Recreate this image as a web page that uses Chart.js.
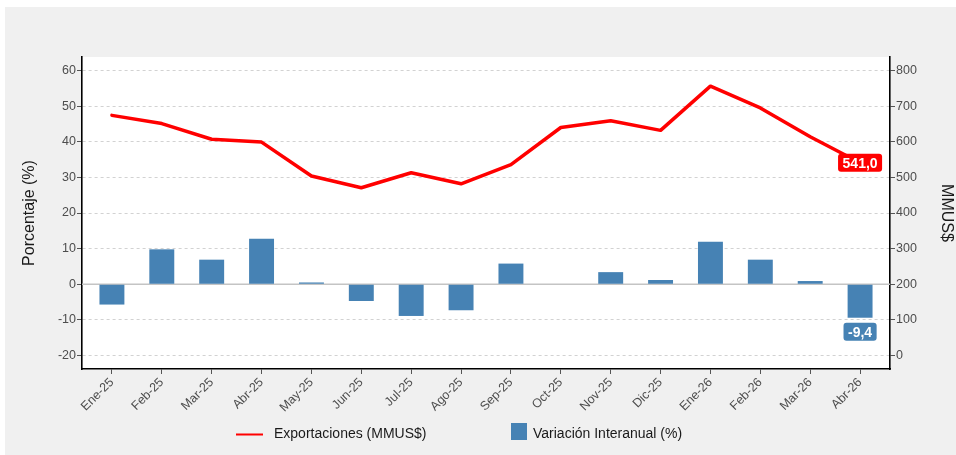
<!DOCTYPE html>
<html>
<head>
<meta charset="utf-8">
<script src="https://cdn.jsdelivr.net/npm/chart.js@4"></script>
<style>
html,body{margin:0;padding:0;background:#fff;}
canvas{display:block;}
</style>
</head>
<body>
<canvas id="c" width="956" height="455"></canvas>
<script>
// ---- data ----
const categories = ['Ene-25','Feb-25','Mar-25','Abr-25','May-25','Jun-25','Jul-25','Ago-25','Sep-25','Oct-25','Nov-25','Dic-25','Ene-26','Feb-26','Mar-26','Abr-26'];
const exportaciones = [674, 651, 607, 599, 504, 471, 513, 482, 536, 640, 659, 632, 756, 695, 614, 541.0];
const variacion = [-5.7, 9.8, 6.9, 12.8, 0.5, -4.7, -8.9, -7.3, 5.8, 0.0, 3.4, 1.2, 11.9, 6.9, 0.9, -9.4];
const leftTicks = [-20, -10, 0, 10, 20, 30, 40, 50, 60];
const rightTicks = [0, 100, 200, 300, 400, 500, 600, 700, 800];

const FONT = "'Liberation Sans', Arial, sans-serif";
const RED = '#ff0000';
const BLUE = '#4682b4';
const fmt = v => v.toFixed(1).replace('.', ',');

const bgPlugin = {
  id: 'bg',
  beforeDraw(chart) {
    const {ctx, chartArea: a} = chart;
    ctx.save();
    ctx.fillStyle = '#ffffff';
    ctx.fillRect(0, 0, chart.width, chart.height);
    ctx.fillStyle = '#f0f0f0';
    ctx.fillRect(5, 7, chart.width - 5, chart.height - 7);
    ctx.fillStyle = '#ffffff';
    ctx.fillRect(a.left, a.top, a.right - a.left, a.bottom - a.top);
    ctx.restore();
  }
};

const zeroPlugin = {
  id: 'zero',
  beforeDatasetsDraw(chart) {
    const {ctx, chartArea: a} = chart;
    const y = chart.scales.y.getPixelForValue(0);
    ctx.save();
    ctx.strokeStyle = '#c4c4c4';
    ctx.lineWidth = 1.6;
    ctx.beginPath();
    ctx.moveTo(a.left, y);
    ctx.lineTo(a.right, y);
    ctx.stroke();
    ctx.restore();
  }
};

function labelBox(ctx, text, cx, cy, bg) {
  ctx.save();
  ctx.font = 'bold 14px ' + FONT;
  const w = ctx.measureText(text).width + 9;
  const h = 18;
  ctx.fillStyle = bg;
  ctx.beginPath();
  ctx.roundRect(cx - w / 2, cy - h / 2, w, h, 3);
  ctx.fill();
  ctx.fillStyle = '#ffffff';
  ctx.textAlign = 'center';
  ctx.textBaseline = 'middle';
  ctx.fillText(text, cx, cy + 1);
  ctx.restore();
}

const labelsPlugin = {
  id: 'vlabels',
  afterDatasetsDraw(chart) {
    const {ctx} = chart;
    const lineMeta = chart.getDatasetMeta(1);
    const barMeta = chart.getDatasetMeta(0);
    const li = exportaciones.length - 1;
    const lp = lineMeta.data[li];
    labelBox(ctx, fmt(exportaciones[li]), lp.x, lp.y, RED);
    const bi = variacion.length - 1;
    const bp = barMeta.data[bi];
    const v = variacion[bi];
    const cy = v < 0 ? bp.y + 14 : bp.y - 14;
    labelBox(ctx, fmt(v), bp.x, cy, BLUE);
  }
};

const legendPlugin = {
  id: 'customLegend',
  afterDraw(chart) {
    const {ctx} = chart;
    ctx.save();
    ctx.strokeStyle = RED;
    ctx.lineWidth = 2;
    ctx.beginPath();
    ctx.moveTo(236, 434.5);
    ctx.lineTo(263, 434.5);
    ctx.stroke();
    ctx.font = '14px ' + FONT;
    ctx.fillStyle = '#1a1a1a';
    ctx.textBaseline = 'middle';
    ctx.fillText(chart.data.datasets[1].label, 274, 434);
    ctx.fillStyle = BLUE;
    ctx.fillRect(511, 423, 16, 17);
    ctx.fillStyle = '#1a1a1a';
    ctx.fillText(chart.data.datasets[0].label, 533, 434);
    ctx.restore();
  }
};

const barData = variacion.map((v, i) => ({x: i, y: v}));
const lineData = exportaciones.map((v, i) => ({x: i, y: v}));

new Chart(document.getElementById('c'), {
  data: {
    datasets: [
      {
        type: 'bar',
        label: 'Variación Interanual (%)',
        data: barData,
        backgroundColor: BLUE,
        borderWidth: 0,
        yAxisID: 'y',
        categoryPercentage: 1.0,
        barPercentage: 0.5,
        order: 2
      },
      {
        type: 'line',
        label: 'Exportaciones (MMUS$)',
        data: lineData,
        borderColor: RED,
        borderWidth: 3.5,
        pointRadius: 0,
        tension: 0,
        borderJoinStyle: 'round',
        borderCapStyle: 'round',
        yAxisID: 'y1',
        order: 1
      }
    ]
  },
  options: {
    responsive: false,
    animation: false,
    devicePixelRatio: 1,
    layout: {padding: {left: 5, top: 57, right: 0, bottom: 0}},
    plugins: {
      legend: {display: false},
      tooltip: {enabled: false}
    },
    scales: {
      x: {
        type: 'linear',
        position: 'bottom',
        offset: false,
        min: -0.6,
        max: categories.length - 0.4,
        afterBuildTicks: s => { s.ticks = categories.map((_, i) => ({value: i})); },
        afterFit: s => { s.height = 86; },
        ticks: {
          autoSkip: false,
          maxRotation: 45,
          minRotation: 45,
          padding: 1,
          color: '#4d4d4d',
          font: {family: FONT, size: 12.5},
          callback: v => categories[v] !== undefined ? categories[v] : ''
        },
        grid: {offset: false, drawOnChartArea: false, drawTicks: true, tickLength: 5, tickColor: '#555', tickWidth: 1},
        border: {display: true, color: '#000', width: 1.6}
      },
      y: {
        type: 'linear',
        position: 'left',
        min: -23.79,
        max: 63.79,
        afterBuildTicks: s => { s.ticks = leftTicks.map(v => ({value: v})); },
        afterFit: s => { s.width = 77; },
        ticks: {color: '#4d4d4d', padding: 1, font: {family: FONT, size: 12.5}},
        grid: {color: '#d2d2d2', lineWidth: 1, tickLength: 5, tickColor: '#555', tickWidth: 1, tickBorderDash: []},
        border: {display: true, color: '#000', width: 1.6, dash: [3, 3]},
        title: {display: true, text: 'Porcentaje (%)', color: '#1a1a1a', font: {family: FONT, size: 16}, padding: {top: 15, bottom: 0}}
      },
      y1: {
        type: 'linear',
        position: 'right',
        min: -37.9,
        max: 837.9,
        afterBuildTicks: s => { s.ticks = rightTicks.map(v => ({value: v})); },
        afterFit: s => { s.width = 66; },
        ticks: {color: '#4d4d4d', padding: 1, font: {family: FONT, size: 12.5}},
        grid: {drawOnChartArea: false, tickLength: 5, tickColor: '#555', tickWidth: 1},
        border: {display: true, color: '#000', width: 1.6},
        title: {display: true, text: 'MMUS$', color: '#1a1a1a', font: {family: FONT, size: 16}, padding: {top: 0, bottom: 0}}
      }
    }
  },
  plugins: [bgPlugin, zeroPlugin, labelsPlugin, legendPlugin]
});
</script>
</body>
</html>
